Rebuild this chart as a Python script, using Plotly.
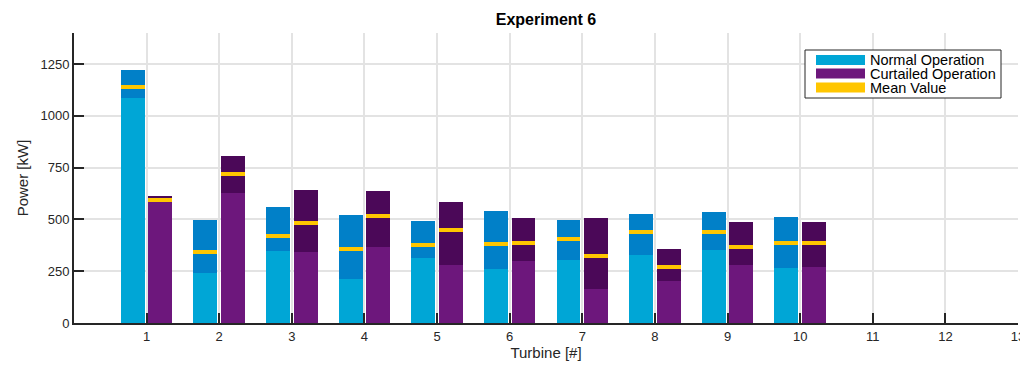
import plotly.graph_objects as go

turbines = [1, 2, 3, 4, 5, 6, 7, 8, 9, 10]
normal_low = [1087, 243, 349, 214, 315, 262, 305, 330, 354, 267]
normal_high = [1222, 498, 561, 523, 494, 542, 498, 527, 537, 513]
normal_mean = [1140, 343, 420, 359, 376, 381, 405, 441, 439, 387]
curt_low = [585, 629, 344, 368, 281, 301, 165, 204, 281, 272]
curt_high = [614, 807, 643, 638, 585, 508, 508, 359, 489, 489]
curt_mean = [595, 720, 484, 518, 449, 387, 325, 272, 367, 387]
x_ticks = list(range(1, 14))
y_ticks = [0, 250, 500, 750, 1000, 1250]
legend_names = ["Normal Operation", "Curtailed Operation", "Mean Value"]

C_NL, C_NH = "#00A6D6", "#0180C8"
C_CL, C_CH = "#6D177C", "#4B0858"
C_MEAN = "#FFC600"
BW = 0.33
OFF = 0.19
MEAN_T = 20

# page body has an 8px margin; figure shifted accordingly
PAGE_OFF = 8
W, H = 1028, 369 - PAGE_OFF
PLOT_RIGHT = 1018
ML, MT = 74 - PAGE_OFF, 33 - PAGE_OFF
MR = W - (PLOT_RIGHT - PAGE_OFF)
MB = 46
PW, PH = W - ML - MR, H - MT - MB


def px2x(px):  # window pixel -> paper x
    return (px - PAGE_OFF - ML) / PW


def px2y(py):  # window pixel -> paper y
    return (H - MB - (py - PAGE_OFF)) / PH


fig = go.Figure()


def add_group(xs, low, high, mean, cl, ch):
    fig.add_trace(go.Bar(x=xs, y=low, base=[0] * len(low), width=BW,
                         marker=dict(color=cl, line=dict(width=0)), showlegend=False))
    fig.add_trace(go.Bar(x=xs, y=[h - l for h, l in zip(high, low)], base=low, width=BW,
                         marker=dict(color=ch, line=dict(width=0)), showlegend=False))
    fig.add_trace(go.Bar(x=xs, y=[MEAN_T] * len(mean), base=[m - MEAN_T / 2 for m in mean],
                         width=BW, marker=dict(color=C_MEAN, line=dict(width=0)), showlegend=False))


add_group([t - OFF for t in turbines], normal_low, normal_high, normal_mean, C_NL, C_NH)
add_group([t + OFF for t in turbines], curt_low, curt_high, curt_mean, C_CL, C_CH)

# compact MATLAB-style legend
shapes = [dict(type="rect", xref="paper", yref="paper",
               x0=px2x(805), x1=px2x(1001), y0=px2y(98), y1=px2y(50),
               line=dict(color="#262626", width=1), fillcolor="white", layer="above")]
annotations = []
rows_y = [60, 73.5, 87.5]
for name, col, ry in zip(legend_names, [C_NL, C_CL, C_MEAN], rows_y):
    shapes.append(dict(type="rect", xref="paper", yref="paper",
                       x0=px2x(816), x1=px2x(865), y0=px2y(ry + 5), y1=px2y(ry - 5),
                       line=dict(width=0), fillcolor=col, layer="above"))
    annotations.append(dict(text=name, xref="paper", yref="paper", x=px2x(868), y=px2y(ry),
                            xanchor="left", yanchor="middle", showarrow=False,
                            font=dict(size=14.5, color="black")))

axis_common = dict(showline=True, linecolor="#262626", linewidth=2, ticks="inside",
                   ticklen=10, tickwidth=1.5, tickcolor="#262626", showgrid=True,
                   gridcolor="#E3E3E3", gridwidth=2, zeroline=False, automargin=True,
                   tickfont=dict(size=13, color="#262626"))

fig.update_layout(
    width=W, height=H,
    margin=dict(l=ML, r=MR, t=MT, b=MB),
    paper_bgcolor="white", plot_bgcolor="white",
    barmode="overlay", bargap=0, showlegend=False,
    font=dict(family="Liberation Sans, Arial, sans-serif", color="#262626"),
    title=dict(text="<b>Experiment 6</b>", x=0.5, xanchor="center", xref="paper",
               y=1 - (19 - PAGE_OFF) / H, yref="container", yanchor="middle",
               font=dict(size=16, color="black")),
    xaxis=dict(range=[0, 13], tickvals=x_ticks, ticktext=[str(v) for v in x_ticks],
               title=dict(text="Turbine [#]", font=dict(size=15), standoff=2),
               ticklabeloverflow="allow", **axis_common),
    yaxis=dict(range=[0, 1400], tickvals=y_ticks, ticktext=[str(v) for v in y_ticks],
               title=dict(text="Power [kW]", font=dict(size=15), standoff=8), **axis_common),
    shapes=shapes,
    annotations=annotations,
)

fig.write_html("out.html")
